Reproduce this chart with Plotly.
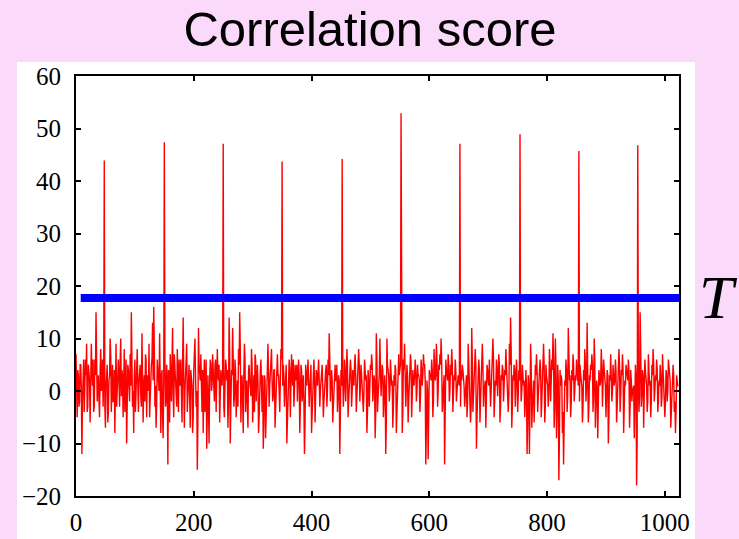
import plotly.graph_objects as go

# ---- data ----
# noise values at even x (0, 2, ..., 1022)
noise_even = [
    7, -5, 3, -2, 5, -12, 2, -4, 6, 9, -3, 4, -6, 9, 1, -4,
    6, 15, -2, 3, -5, 8, 1, -3, 2, -7, 4, -6, 2, 10, -4, 5,
    -2, -8, 9, 0, 6, -3, 10, 4, -5, 8, 2, -10, 5, -1, 7, 15,
    -3, -8, 6, 2, 8, -4, 4, -1, 11, -6, 3, 7, -5, 1, 9, -2,
    5, 13, 16, -3, -7, 6, 2, 11, -8, 4, -9, 3, -3, 5, -14, 3,
    7, -2, 12, -5, 4, 1, 8, -4, 2, 6, -6, 14, -7, 3, 9, -2,
    5, -7, 1, -8, 4, 10, -3, -15, 12, 2, 7, -4, -8, 6, 1, -11,
    3, -10, 6, 0, 7, -2, 5, -4, 8, 2, -6, 4, 1, 3, -5, 6,
    2, -7, 14, -10, 4, 12, -3, 6, -5, 2, 8, 15, -6, 3, -8, 9,
    -4, 2, -7, 5, 1, 8, -6, 3, 7, -2, 5, -8, 2, 6, -4, -11,
    3, -9, 1, 9, -3, 5, 8, -2, 4, -7, 2, 7, 3, -4, 8, 2,
    5, -3, 4, -10, 2, 6, -5, 7, 1, -3, 5, 4, -2, 6, -8, 5,
    -2, 3, -12, 5, 1, 6, -3, 5, -8, 2, 6, -6, 4, 1, 6, -3,
    2, 5, -5, 1, 4, -3, 6, 11, -2, 4, -6, 1, 5, 2, -4, 3,
    -12, 4, 1, -3, 6, -2, 8, -5, 2, 6, -3, 4, 1, 7, -4, 3,
    8, -2, 5, 1, -4, 6, 2, -8, 4, -3, 5, 7, -2, 3, -9, 11,
    -4, 2, 10, -1, 5, -5, 3, -12, 10, 4, -2, 6, 1, -7, 3, 5,
    -8, 2, 7, 4, 3, -8, 6, 9, -3, 5, -6, 2, 7, -5, 4, 1,
    6, -2, 5, 3, -4, 6, 1, 7, 5, -14, 2, -13, 4, 3, 6, -5,
    8, 2, 9, -3, 5, 7, 10, -4, 2, -14, 6, 3, 7, -2, 5, 8,
    -4, 3, 6, -2, 1, 2, -8, 4, 5, 3, -3, 2, -5, 9, 4, -6,
    12, -4, 3, 8, -11, 2, 6, -6, 4, 9, -3, 1, -7, 5, 2, 6,
    -3, 4, 10, -5, 2, 6, -1, 7, -6, 3, 5, -2, 4, 8, 1, -4,
    9, 14, -7, 3, 5, -3, 6, -4, 4, 8, -2, 5, 1, -5, 4, -12,
    3, -12, 9, -7, 2, -6, 5, 7, -4, 1, 6, -5, 3, 9, -6, 5,
    2, -3, 8, -2, 6, 11, -7, 10, -9, 5, -17, 4, 3, -8, -14, 2,
    6, -4, 12, 2, -5, 4, 7, -2, 3, 6, 1, -5, 5, 2, -6, 4,
    8, -2, 13, -6, 3, 5, 7, -4, 10, -7, 2, -9, 4, 1, 8, -3,
    6, 2, -5, 4, -10, 3, 7, -2, 5, 1, 6, -6, 3, 8, -4, 4,
    7, -8, 2, 5, 3, 6, -7, 4, -2, 1, -9, 5, -18, 2, -4, 15,
    -3, 4, -7, 6, 2, -4, 7, 1, -5, 5, 8, -2, 3, 6, -4, 2,
    5, -3, 7, 1, -5, 4, -2, 6, 3, -7, 2, 5, -4, -8, 3, 1,
]
# noise values at odd x (1, 3, ..., 1023)
noise_odd = [
    2, 4, -3, 5, 1, -2, 6, 0, 3, -4, 5, 2, -1, 4, 6, -3,
    3, 5, 1, -2, 4, 0, 6, 2, -3, 1, 5, -4, 3, 7, 1, -2,
    4, 1, -3, 5, 2, 6, -1, 3, 0, -4, 6, 2, 4, -2, 1, 5,
    0, 3, -4, 6, 1, 2, 5, -3, 4, 1, -2, 6, 3, 0, -5, 4,
    6, 2, 8, 1, -3, 4, 0, 5, 3, -5, 2, 6, -2, 1, 4, -6,
    3, 5, -1, 7, 2, -3, 4, 6, 1, -2, 5, 3, 0, 7, -4, 2,
    -2, 4, 1, -5, 6, 3, 0, -6, 5, 2, -3, 4, 1, -4, 6, 2,
    -3, 2, 5, 1, 4, -2, 6, 0, 3, 5, -1, 2, 4, -3, 1, 5,
    4, -2, 7, 0, 3, 6, -1, 4, 2, -3, 5, 8, 1, -2, 3, 6,
    1, -3, 4, 2, -1, 5, 3, -4, 6, 1, 2, -5, 4, 0, 3, -6,
    2, -4, 5, 3, 1, 6, 2, -1, 4, -3, 5, 3, 0, 2, 6, 1,
    3, 0, 5, -4, 2, 4, -1, 3, 6, 0, 2, 5, 1, 3, -3, 4,
    1, -2, -6, 3, 4, 2, 0, 5, -3, 4, 2, -1, 3, 5, 2, 0,
    4, 1, -2, 3, 5, 0, 3, 6, 1, 2, -3, 4, 2, 5, -1, 2,
    -5, 1, 3, 0, 4, 2, 5, -2, 3, 4, 0, 2, 5, 3, -1, 4,
    5, 1, 3, -2, 0, 4, 3, -4, 2, 1, 4, 5, 0, 2, -4, 6,
    -1, 3, 5, 2, 4, -2, 1, -6, 5, 3, 0, 4, 2, -3, 1, 4,
    -3, 4, 3, 5, 2, -4, 4, 5, 1, 3, -2, 4, 5, -1, 2, 3,
    4, 0, 3, 2, -1, 4, 3, 5, 2, -7, 0, -6, 3, 2, 4, -2,
    5, 3, 6, 0, 4, 5, 6, -1, 3, -7, 4, 2, 5, 0, 3, 5,
    -1, 2, 4, 0, 3, 1, -3, 2, 4, 1, -1, 3, -2, 5, 2, -3,
    6, -1, 2, 5, -5, 3, 4, -2, 3, 5, 0, 2, -3, 4, 1, 3,
    0, 3, 6, -2, 1, 4, 2, 5, -3, 2, 4, 0, 3, 5, 2, -1,
    5, 8, -3, 2, 4, 0, 3, -1, 2, 5, 0, 3, 2, -2, 1, -6,
    1, -5, 5, -3, 2, -2, 3, 4, -1, 2, 4, -2, 2, 5, -3, 3,
    1, 0, 5, 1, 4, 6, -3, 5, -4, 2, -8, 1, 2, -4, -7, 1,
    4, -1, 6, 3, -2, 2, 5, 0, 2, 4, 1, -2, 3, 1, -3, 2,
    5, 1, 7, -3, 2, 4, 5, -1, 6, -3, 1, -4, 3, 2, 5, 0,
    4, 1, -2, 3, -5, 2, 4, 0, 3, 2, 4, -3, 2, 5, -1, 3,
    4, -3, 1, 3, 2, 4, -3, 2, 0, 1, -4, 3, -9, 2, -1, 8,
    -1, 3, -3, 4, 1, -2, 4, 2, -2, 3, 5, 0, 2, 4, -2, 1,
    3, -1, 4, 1, -2, 3, 0, 4, 2, -3, 1, 3, -2, -4, 2, 1,
]
spike_x = [48, 150, 250, 350, 452, 552, 652, 754, 854, 954]
spike_y = [43.9, 47.4, 47.1, 43.7, 44.2, 52.9, 47.1, 48.9, 45.7, 46.8]
threshold = 17.7
threshold_start = 8
x_range = [0, 1024]
y_range = [-20, 60]
x_ticks = [0, 200, 400, 600, 800, 1000]
y_ticks = [-20, -10, 0, 10, 20, 30, 40, 50, 60]
title_text = "Correlation score"
label_text = "T"

# ---- build series ----
ys = []
for a, b in zip(noise_even, noise_odd):
    ys.extend([a, b])
xs = list(range(len(ys)))
for sx, sy in zip(spike_x, spike_y):
    ys[sx] = sy

fig = go.Figure()
fig.add_trace(go.Scatter(x=xs, y=ys, mode="lines",
                         line=dict(color="#ff0000", width=1.4),
                         hoverinfo="skip", showlegend=False))
fig.add_trace(go.Scatter(x=[threshold_start, x_range[1]], y=[threshold, threshold],
                         mode="lines", line=dict(color="#0000ff", width=8),
                         hoverinfo="skip", showlegend=False))

W, H = 739, 539
ml, mr, mt, mb = 76, 60, 76, 43
pw, ph = W - ml - mr, H - mt - mb

def px2paper_x(p):
    return (p - ml) / pw

def px2paper_y(p):
    return (H - mb - p) / ph

# white panel behind the chart
fig.add_shape(type="rect", xref="paper", yref="paper", layer="below",
              x0=px2paper_x(17), x1=px2paper_x(695),
              y0=px2paper_y(545), y1=px2paper_y(62),
              fillcolor="white", line=dict(width=0))

fig.add_annotation(text="<i>" + label_text + "</i>", xref="paper", yref="paper",
                   x=px2paper_x(718), y=px2paper_y(297),
                   xanchor="center", yanchor="middle", showarrow=False,
                   font=dict(family="Liberation Serif", size=62, color="black"))

axis_common = dict(showline=True, linecolor="black", linewidth=2, mirror="ticks",
                   ticks="inside", ticklen=5, tickwidth=2, tickcolor="black",
                   showgrid=False, zeroline=False, automargin=False,
                   tickfont=dict(family="Liberation Serif", size=25, color="black"))

fig.update_layout(
    width=W, height=H,
    margin=dict(l=ml, r=mr, t=mt, b=mb, autoexpand=False),
    paper_bgcolor="#fbd9fa", plot_bgcolor="white",
    title=dict(text=title_text, xref="paper", xanchor="center",
               y=1 - 29 / H, yref="container", yanchor="middle",
               automargin=False,
               font=dict(family="Liberation Sans", size=49, color="black")),
    xaxis=dict(range=x_range, tickvals=x_ticks, ticklabelstandoff=3, **axis_common),
    yaxis=dict(range=y_range, tickvals=y_ticks, ticklabelstandoff=8, **axis_common),
)
fig.update_layout(title_x=px2paper_x(370))

fig.write_html("out.html", config={"displayModeBar": False},
               post_script="document.body.style.margin='0';document.body.style.padding='0';")
